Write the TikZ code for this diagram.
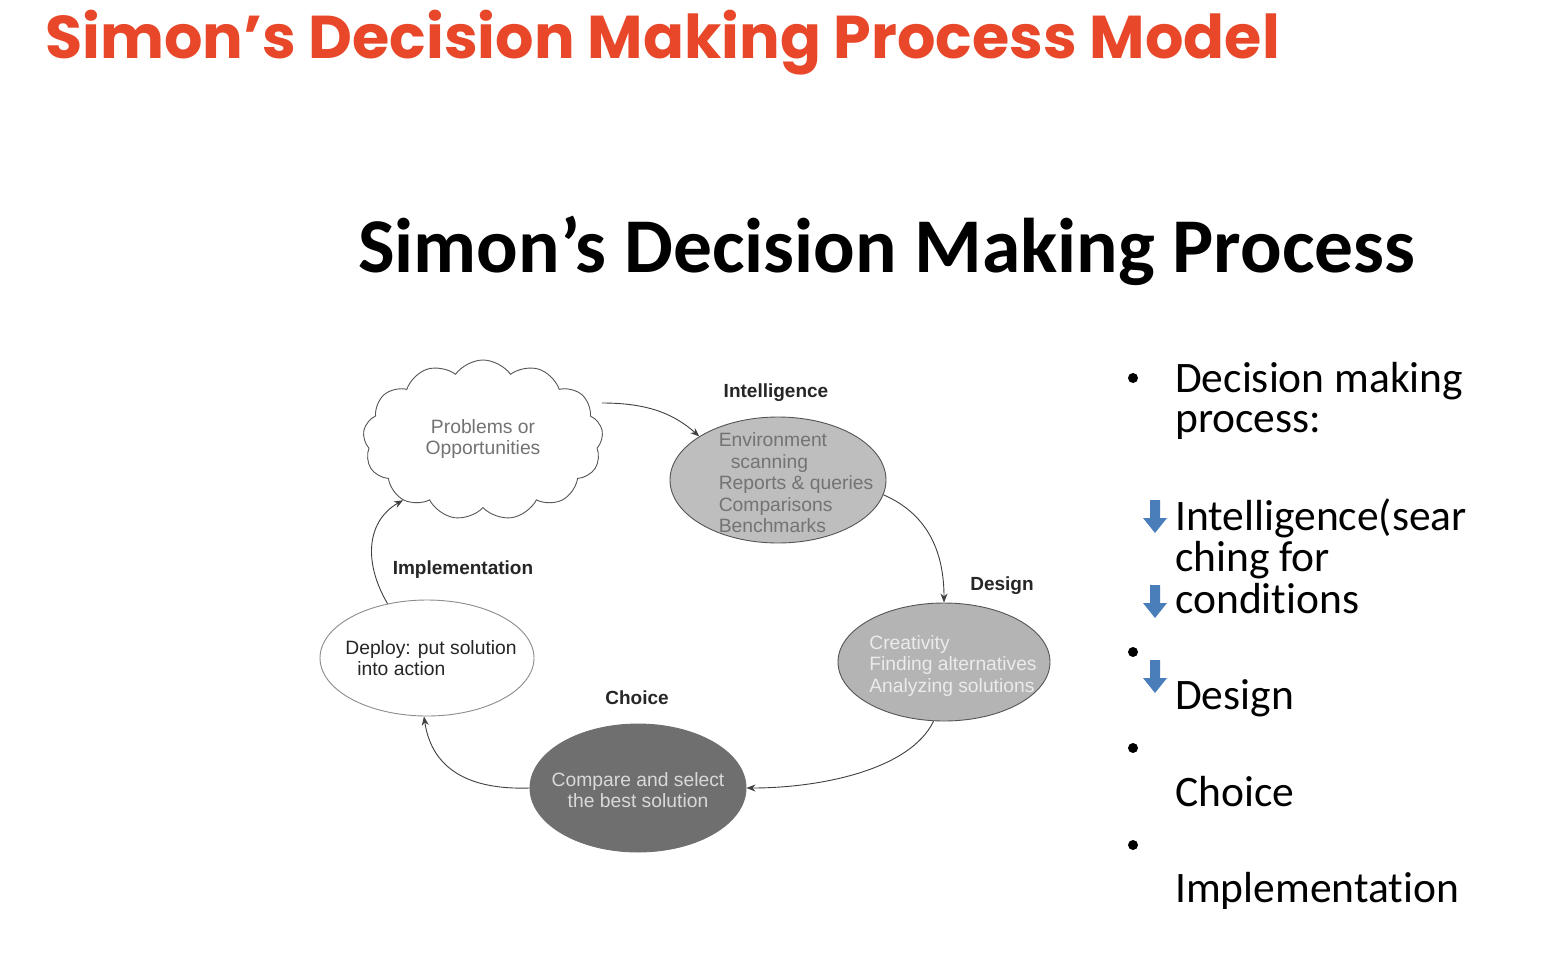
\documentclass[tikz,border=0pt]{standalone}
\usepackage{fontspec}
\setmainfont{Liberation Sans}
\newfontfamily\headfont{Poppins}
\newfontfamily\slidefont[Ligatures=NoCommon]{Carlito}
\usetikzlibrary{shapes.symbols,shapes.geometric,arrows.meta}
\definecolor{headred}{HTML}{E8472A}
\definecolor{lightfill}{HTML}{BEBEBE}
\definecolor{midfill}{HTML}{B4B4B4}
\definecolor{darkfill}{HTML}{6F6F6F}
\definecolor{ringline}{HTML}{555555}
\definecolor{bluearrow}{HTML}{4A7EBB}
\tikzset{
  phase/.style={ellipse, draw=ringline, line width=0.9pt, inner sep=0pt},
  phaselabel/.style={font=\fontsize{19}{21}\selectfont\bfseries, text=black!85},
  inner/.style={font=\fontsize{19.3}{21.5}\selectfont, align=left, inner sep=0pt},
  flow/.style={draw=black!75, line width=0.9pt, -{Stealth[length=9pt,width=7pt]}},
  bullettext/.style={font=\slidefont\fontsize{43.5}{40}\selectfont, anchor=base west,
                     inner sep=0pt, align=left},
  dot/.style={circle, fill=black, inner sep=0pt, minimum size=10pt},
  downarrow/.style={fill=bluearrow}
}
\newcommand{\bluedown}[2]{%
  \fill[downarrow] (#1-5,#2) -- (#1+5,#2) -- (#1+5,#2+18) -- (#1+12,#2+18)
    -- (#1,#2+33) -- (#1-12,#2+18) -- (#1-5,#2+18) -- cycle;}
\begin{document}
\begin{tikzpicture}[x=1pt,y=-1pt]
\useasboundingbox[fill=white] (0,0) rectangle (1558,964);

% headings
\node[anchor=base west, inner sep=0pt, text=headred,
      font=\headfont\bfseries\fontsize{60.4}{66}\selectfont] (head) at (45,58)
  {Simon’s Decision Making Process Model};
\node[anchor=base west, inner sep=0pt,
      font=\slidefont\bfseries\fontsize{77.5}{82}\selectfont] (sub) at (358,272)
  {Simon’s Decision Making Process};

% cycle of phases
\node[cloud, cloud puffs=13, cloud puff arc=110, aspect=1.5, draw=ringline,
      line width=0.9pt, minimum width=240pt, minimum height=160pt,
      inner sep=0pt] (cloud) at (483,440) {};
\node[inner, align=center, text=black!55] (cloudT) at (483,439)
  {Problems or\\Opportunities};

\node[phase, fill=lightfill, minimum width=216pt, minimum height=126pt] (intel) at (778,480) {};
\node[inner, text=black!55] (intelT) at (796,483)
  {Environment\\\hspace{12pt}scanning\\Reports \& queries\\Comparisons\\Benchmarks};

\node[phase, fill=midfill, minimum width=212pt, minimum height=118pt] (design) at (944,662) {};
\node[inner, text=white!92!black] (designT) at (953,666)
  {Creativity\\Finding alternatives\\Analyzing solutions};

\node[phase, fill=darkfill, draw=darkfill, minimum width=216pt, minimum height=128pt] (choice) at (638,788) {};
\node[inner, align=center, text=white!85!black] (choiceT) at (638,790)
  {Compare and select\\the best solution};

\node[phase, fill=white, draw=black!45, minimum width=214pt, minimum height=116pt] (impl) at (427,658) {};
\node[inner, text=black!85] (implT) at (431,658)
  {Deploy: put solution\\\hspace{12pt}into action};

% phase captions
\node[phaselabel] (lintel) at (776,393) {Intelligence};
\node[phaselabel] (ldesign) at (1002,586) {Design};
\node[phaselabel] (lchoice) at (637,698) {Choice};
\node[phaselabel] (limpl) at (463,570) {Implementation};

% connectors around the cycle
\draw[flow] (cloud.east |- 0,403) .. controls (650,403) and (675,415) .. (intel.151);
\draw[flow] (intel.-8) .. controls (930,515) and (944,555) .. (design.north);
\draw[flow] (design.-100) .. controls (910,770) and (820,788) .. (choice.east);
\draw[flow] (choice.west) .. controls (470,790) and (432,770) .. (impl.-93);
\draw[flow] (impl.126) .. controls (362,560) and (368,520) .. (cloud.-143);

% bullet list
\node[dot] (d1) at (1133,378) {};
\node[bullettext] (t1) at (1175,432) {Decision making\\process:};
\bluedown{1155}{500}
\node[bullettext, font=\slidefont\fontsize{43.5}{41.5}\selectfont] (t2) at (1175,613)
  {Intelligence(sear\\ching for\\conditions};
\bluedown{1155}{585}
\node[dot] (d2) at (1133,652) {};
\bluedown{1155}{660}
\node[bullettext] (t3) at (1175,709) {Design};
\node[dot] (d3) at (1133,748) {};
\node[bullettext] (t4) at (1175,806) {Choice};
\node[dot] (d4) at (1133,845) {};
\node[bullettext] (t5) at (1175,902) {Implementation};
\end{tikzpicture}
\end{document}
